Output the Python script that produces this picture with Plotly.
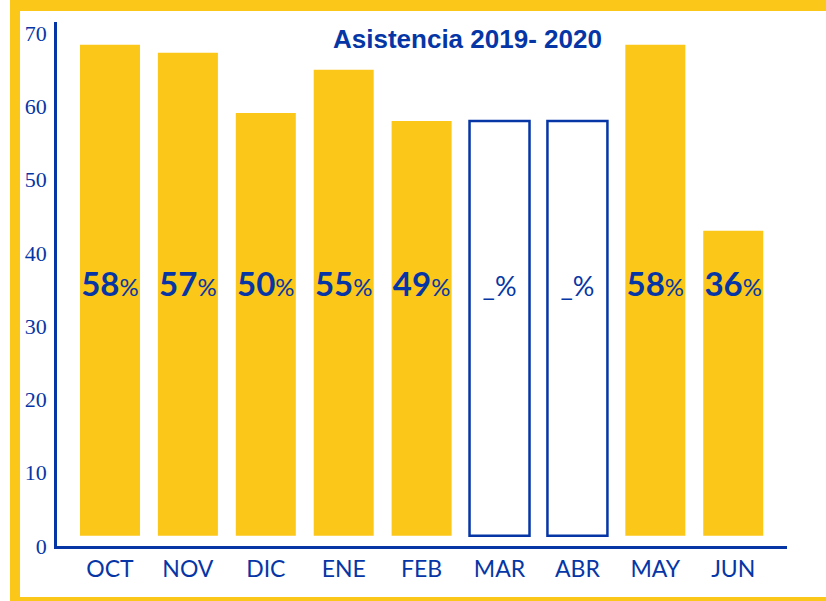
import plotly.graph_objects as go

# ---- data ----
months = ["OCT", "NOV", "DIC", "ENE", "FEB", "MAR", "ABR", "MAY", "JUN"]
bar_heights = [68.4, 67.3, 59.1, 65.0, 58.0, 58.0, 58.0, 68.4, 43.0]
pct_values = ["58", "57", "50", "55", "49", None, None, "58", "36"]
y_ticks = [0, 10, 20, 30, 40, 50, 60, 70]
title_text = "Asistencia 2019- 2020"

# ---- style ----
YELLOW = "#FBC718"
BLUE = "#0636A6"
BAR_BASE = 1.4
LABEL_Y = 35.2
W, H = 826, 601
ML, MR, MT, MB = 57, 39, 22, 55

reported = [v is not None for v in pct_values]
fill_colors = [YELLOW if r else "white" for r in reported]
line_colors = [YELLOW if r else BLUE for r in reported]
line_widths = [0 if r else 2.5 for r in reported]

labels = []
for v in pct_values:
    if v is None:
        labels.append("<span style='font-weight:normal;font-size:27px'>_%</span>")
    else:
        labels.append(f"<b>{v}</b><span style='font-weight:normal;font-size:24px'>%</span>")

fig = go.Figure()
fig.add_trace(go.Bar(
    x=months,
    y=[h - BAR_BASE for h in bar_heights],
    base=BAR_BASE,
    width=0.77,
    marker=dict(color=fill_colors, line=dict(color=line_colors, width=line_widths)),
    hoverinfo="skip",
))
fig.add_trace(go.Scatter(
    x=months,
    y=[LABEL_Y] * len(months),
    mode="text",
    text=labels,
    textposition="middle center",
    textfont=dict(family="Lato", size=33, color=BLUE),
    hoverinfo="skip",
))

def px_x(p):
    return (p - ML) / (W - ML - MR)

def px_y(p):
    return (H - MB - p) / (H - MT - MB)

shapes = [
    dict(type="rect", xref="paper", yref="paper", x0=px_x(10), x1=px_x(20), y0=px_y(601), y1=px_y(0),
         fillcolor=YELLOW, line=dict(width=0), layer="below"),
    dict(type="rect", xref="paper", yref="paper", x0=px_x(10), x1=px_x(826), y0=px_y(11), y1=px_y(0),
         fillcolor=YELLOW, line=dict(width=0), layer="below"),
    dict(type="rect", xref="paper", yref="paper", x0=px_x(10), x1=px_x(826), y0=px_y(601), y1=px_y(597),
         fillcolor=YELLOW, line=dict(width=0), layer="below"),
]

fig.update_layout(
    width=W, height=H,
    margin=dict(l=ML, r=MR, t=MT, b=MB),
    paper_bgcolor="white", plot_bgcolor="white",
    showlegend=False,
    shapes=shapes,
    annotations=[dict(
        text=f"<b>{title_text}</b>", xref="paper", yref="paper",
        x=px_x(467), y=px_y(39), xanchor="center", yanchor="middle", showarrow=False,
        font=dict(family="Liberation Sans, Arial", size=26, color=BLUE),
    )],
    xaxis=dict(
        type="category", range=[-0.68, 8.69],
        showline=True, linecolor=BLUE, linewidth=3, ticks="", showgrid=False, zeroline=False,
        tickfont=dict(family="Lato", size=23, color=BLUE), ticklabelstandoff=0,
    ),
    yaxis=dict(
        range=[0, 71.5], tickvals=y_ticks,
        showline=True, linecolor=BLUE, linewidth=2.5, ticks="", showgrid=False, zeroline=False,
        tickfont=dict(family="Liberation Serif, Times New Roman", size=22, color=BLUE),
        ticklabelstandoff=3,
    ),
)

fig.write_html(
    "out.html",
    config={"displayModeBar": False},
    post_script="document.body.style.margin='0';document.body.style.overflow='hidden';",
)
